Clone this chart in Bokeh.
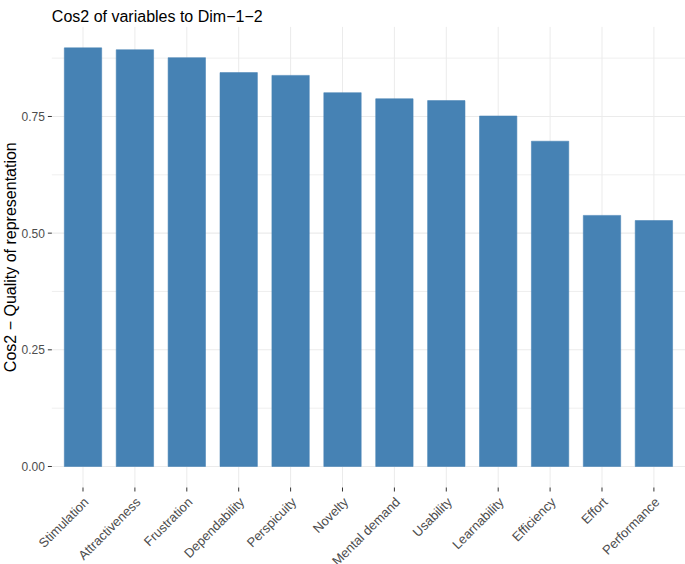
from bokeh.plotting import figure
from bokeh.models import ColumnDataSource, Range1d
from bokeh.core.properties import value
from bokeh.embed import file_html
from bokeh.resources import INLINE
from math import pi

categories = ["Stimulation", "Attractiveness", "Frustration", "Dependability",
              "Perspicuity", "Novelty", "Mental demand", "Usability",
              "Learnability", "Efficiency", "Effort", "Performance"]
cos2 = [0.897, 0.893, 0.876, 0.844, 0.838, 0.801, 0.788, 0.784,
        0.751, 0.697, 0.538, 0.527]
y_ticks = [0.0, 0.25, 0.5, 0.75]
y_tick_labels = ["0.00", "0.25", "0.50", "0.75"]
y_minor = [0.125, 0.375, 0.625, 0.875]
y_title = "Cos2 \u2212 Quality of representation"
title = "Cos2 of variables to Dim\u22121\u22122"

x_pos = list(range(1, len(categories) + 1))
bars = ColumnDataSource(data=dict(x=x_pos, top=cos2, name=categories))

FONT = "Liberation Sans"
GRID = "#ebebeb"
TICK = "#333333"
LABEL = "#4d4d4d"

# panel (ggplot-like) extents in data units
X_LEFT, X_RIGHT = 0.4, 12.6
Y0, Y_TOP = -0.045, 0.942
X_TICK = 0.077    # 4 px tick length on x scale
Y_TICK = 0.0086   # 4 px tick length on y scale

p = figure(width=685, height=564, output_backend="svg", toolbar_location=None,
           x_axis_location=None, y_axis_location=None,
           x_range=Range1d(-0.5896, 12.609), y_range=Range1d(-0.21, 0.9985),
           min_border_left=0, min_border_right=0, min_border_top=0,
           min_border_bottom=0)
p.grid.visible = False
p.background_fill_color = "white"
p.border_fill_color = "white"
p.outline_line_color = None

# grid lines restricted to the panel
p.segment(x0=x_pos, x1=x_pos, y0=Y0, y1=Y_TOP, line_color=GRID, line_width=1)
p.segment(x0=X_LEFT, x1=X_RIGHT, y0=y_minor, y1=y_minor, line_color=GRID, line_width=0.8)
p.segment(x0=X_LEFT, x1=X_RIGHT, y0=y_ticks, y1=y_ticks, line_color=GRID, line_width=1.1)

# bars
p.vbar(x="x", top="top", bottom=0, width=0.72, source=bars,
       fill_color="steelblue", line_color="steelblue", line_alpha=0.55, line_width=1)

# axis ticks
p.segment(x0=x_pos, x1=x_pos, y0=Y0, y1=Y0 - Y_TICK, line_color=TICK, line_width=1)
p.segment(x0=X_LEFT - X_TICK, x1=X_LEFT, y0=y_ticks, y1=y_ticks, line_color=TICK, line_width=1)

# tick labels
p.text(x="x", y=Y0, text="name", source=bars, angle=pi / 4,
       text_align="right", text_baseline="top", x_offset=-2, y_offset=7,
       text_font=value(FONT), text_font_size="13px", text_color=LABEL)
p.text(x=X_LEFT, y=y_ticks, text=y_tick_labels, x_offset=-7,
       text_align="right", text_baseline="middle",
       text_font=value(FONT), text_font_size="12px", text_color=LABEL)

# y-axis title
p.text(x=[X_LEFT], y=[(Y0 + Y_TOP) / 2], text=[y_title], angle=pi / 2, x_offset=-41,
       text_align="center", text_baseline="middle",
       text_font=value(FONT), text_font_size="16px", text_color="black")

# plot title, left-aligned with the panel
p.text(x=[X_LEFT], y=[Y_TOP], text=[title], y_offset=-10,
       text_align="left", text_baseline="alphabetic",
       text_font=value(FONT), text_font_size="16px", text_color="black")

open("out.html", "w").write(file_html(p, INLINE))
